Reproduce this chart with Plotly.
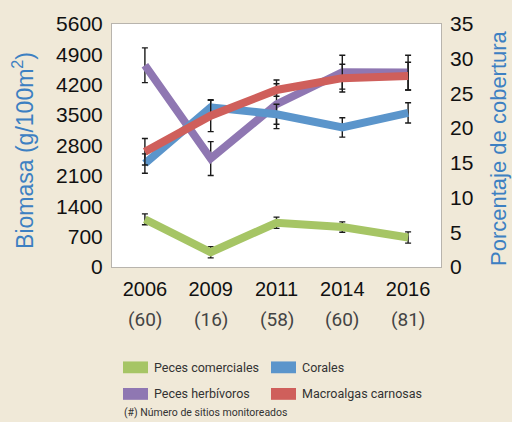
import plotly.graph_objects as go

years = ["2006", "2009", "2011", "2014", "2016"]
n_sites = ["(60)", "(16)", "(58)", "(60)", "(81)"]

# Biomass (g/100m2) - left axis
peces_comerciales = [1100, 340, 1020, 920, 680]
peces_comerciales_err = [125, 130, 130, 120, 130]
peces_herbivoros = [4650, 2500, 3750, 4490, 4480]
peces_herbivoros_err = [400, 390, 560, 390, 400]

# Cover (%) - right axis
corales = [14.9, 23.0, 22.0, 20.1, 22.2]
corales_err = [1.4, 1.0, 1.45, 1.4, 1.45]
macroalgas = [16.6, 21.8, 25.5, 27.2, 27.5]
macroalgas_err = [1.9, 2.3, 0.9, 2.0, 2.0]

names = ["Peces comerciales", "Corales", "Peces herbívoros", "Macroalgas carnosas"]
colors = ["#a6c565", "#5b95cb", "#8f77b2", "#cf5f5b"]

BG = "#f0e9d8"
W, H = 512, 422
L, R, T, B = 112, 71, 20, 155
pw, ph = W - L - R, H - T - B


def px2x(px):
    return (px - L) / pw


def px2y(py):
    return (H - B - py) / ph


fig = go.Figure()


def add(y, err, name, color, axis):
    fig.add_trace(go.Scatter(
        x=years, y=y, name=name, mode="lines", yaxis=axis,
        line=dict(color=color, width=8),
        error_y=dict(type="data", array=err, visible=True,
                     color="#1a1a1a", thickness=1.4, width=3),
        showlegend=False, hoverinfo="skip"))


add(peces_comerciales, peces_comerciales_err, names[0], colors[0], "y")
add(peces_herbivoros, peces_herbivoros_err, names[2], colors[2], "y")
add(corales, corales_err, names[1], colors[1], "y2")
add(macroalgas, macroalgas_err, names[3], colors[3], "y2")

tickfont = dict(family="Liberation Sans, Arial, sans-serif", size=21, color="#111")

fig.update_layout(
    width=W, height=H,
    margin=dict(l=L, r=R, t=T, b=B),
    paper_bgcolor=BG,
    plot_bgcolor="#ffffff",
    xaxis=dict(type="category", range=[-0.5, 4.5], showgrid=False,
               showline=True, linecolor="#b8b4ad", linewidth=1, mirror=True,
               ticks="", tickfont=dict(family="Liberation Sans, Arial, sans-serif", size=20, color="#111"),
               ticklabelstandoff=4),
    yaxis=dict(range=[0, 5600], dtick=700, showgrid=False, zeroline=False,
               showline=True, linecolor="#b8b4ad", linewidth=1, mirror=True,
               ticks="", tickfont=tickfont, ticklabelstandoff=4),
    yaxis2=dict(range=[0, 35], dtick=5, overlaying="y", side="right",
                showgrid=False, zeroline=False, showline=False,
                ticks="", tickfont=tickfont, ticklabelstandoff=8),
    showlegend=False,
)

annots = []
# site counts below years
for i, n in enumerate(n_sites):
    annots.append(dict(x=px2x(L + pw * (i + 0.5) / len(n_sites)), y=px2y(320),
                       xref="paper", yref="paper", text=n,
                       showarrow=False, yanchor="middle", xanchor="center",
                       font=dict(family="Roboto, sans-serif", size=19, color="#444")))

# axis titles
annots.append(dict(x=px2x(23), y=px2y(149), xref="paper", yref="paper",
                   text="Biomasa (g/100m<sup>2</sup>)", textangle=-90, showarrow=False,
                   xanchor="center", yanchor="middle",
                   font=dict(family="Liberation Sans, Arial, sans-serif", size=23, color="#3d80c2")))
annots.append(dict(x=px2x(499), y=px2y(146), xref="paper", yref="paper",
                   text="Porcentaje de cobertura", textangle=-90, showarrow=False,
                   xanchor="center", yanchor="middle",
                   font=dict(family="Liberation Sans, Arial, sans-serif", size=22, color="#3d80c2")))

# manual legend
shapes = []
legend_pos = [(123, 369), (271, 369), (123, 396), (271, 396)]
for (lx, ly), name, color in zip(legend_pos, names, colors):
    shapes.append(dict(type="rect", xref="paper", yref="paper",
                       x0=px2x(lx), x1=px2x(lx + 25), y0=px2y(ly - 6), y1=px2y(ly + 6),
                       fillcolor=color, line=dict(width=0)))
    annots.append(dict(x=px2x(lx + 29), y=px2y(ly), xref="paper", yref="paper",
                       text=name, showarrow=False, xanchor="left", yanchor="middle",
                       font=dict(family="Roboto, sans-serif", size=12.5, color="#333")))

annots.append(dict(x=px2x(122), y=px2y(415), xref="paper", yref="paper",
                   text="(#) Número de sitios monitoreados", showarrow=False,
                   xanchor="left", yanchor="middle",
                   font=dict(family="Roboto, sans-serif", size=10.5, color="#333")))

fig.update_layout(annotations=annots, shapes=shapes)

fig.write_html(
    "out.html",
    config={"displayModeBar": False},
    post_script=f"document.body.style.margin='0';document.body.style.background='{BG}';",
)
